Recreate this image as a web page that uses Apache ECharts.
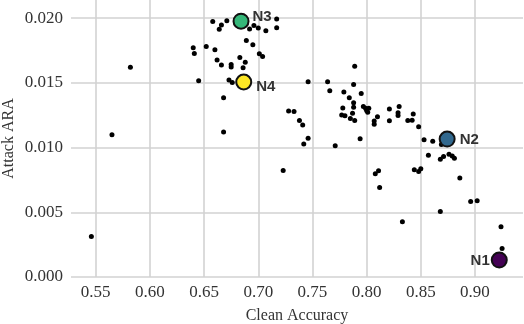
<!DOCTYPE html>
<html>
<head>
<meta charset="utf-8">
<script src="https://cdn.jsdelivr.net/npm/echarts@6/dist/echarts.min.js"></script>
<style>
html, body { margin: 0; padding: 0; background: #fff; }
#main { width: 524px; height: 324px; }
</style>
</head>
<body>
<div id="main"></div>
<script>
// all runs
var cleanAcc = [0.658, 0.666, 0.664, 0.671, 0.692, 0.696, 0.700, 0.707, 0.717, 0.717,
    0.689, 0.695, 0.701, 0.704, 0.640, 0.641, 0.652, 0.660, 0.662, 0.666,
    0.675, 0.675, 0.683, 0.688, 0.686, 0.582, 0.645, 0.673, 0.676, 0.668,
    0.565, 0.668, 0.546, 0.789, 0.746, 0.764, 0.788, 0.766, 0.779, 0.795,
    0.784, 0.788, 0.788, 0.778, 0.797, 0.799, 0.802, 0.800, 0.801, 0.728,
    0.733, 0.738, 0.741, 0.746, 0.742, 0.771, 0.794, 0.777, 0.780, 0.787,
    0.785, 0.789, 0.807, 0.807, 0.810, 0.821, 0.830, 0.829, 0.829, 0.821,
    0.838, 0.842, 0.843, 0.848, 0.853, 0.861, 0.869, 0.857, 0.868, 0.871,
    0.876, 0.879, 0.881, 0.723, 0.808, 0.811, 0.812, 0.844, 0.848, 0.850,
    0.886, 0.896, 0.902, 0.868, 0.833, 0.924, 0.925];
var attackAra = [0.01974, 0.01948, 0.01915, 0.01981, 0.01916, 0.01943, 0.01924, 0.01904, 0.01995, 0.01927,
    0.01827, 0.01795, 0.01726, 0.01705, 0.01772, 0.01728, 0.01782, 0.01757, 0.01678, 0.01639,
    0.01643, 0.01624, 0.01696, 0.01660, 0.01618, 0.01622, 0.01517, 0.01523, 0.01503, 0.01386,
    0.01099, 0.01120, 0.00314, 0.01629, 0.01510, 0.01510, 0.01487, 0.01439, 0.01429, 0.01418,
    0.01385, 0.01346, 0.01313, 0.01306, 0.01317, 0.01305, 0.01305, 0.01286, 0.01274, 0.01284,
    0.01280, 0.01209, 0.01174, 0.01073, 0.01028, 0.01014, 0.01069, 0.01253, 0.01246, 0.01266,
    0.01225, 0.01209, 0.01205, 0.01180, 0.01238, 0.01298, 0.01317, 0.01269, 0.01249, 0.01207,
    0.01209, 0.01212, 0.01259, 0.01161, 0.01060, 0.01050, 0.01025, 0.00941, 0.00911, 0.00931,
    0.00948, 0.00935, 0.00917, 0.00823, 0.00798, 0.00821, 0.00692, 0.00829, 0.00815, 0.00836,
    0.00765, 0.00583, 0.00589, 0.00507, 0.00427, 0.00388, 0.00221];

// highlighted runs
var hiNames = ['N1', 'N2', 'N3', 'N4'];
var hiAcc = [0.9224, 0.8743, 0.6841, 0.6866];
var hiAra = [0.00131, 0.01066, 0.01977, 0.01507];
var hiColors = ['#440154', '#31688e', '#35b779', '#fde725'];

function buildPoints(xs, ys) {
    var pts = [];
    for (var i = 0; i < xs.length; i++) {
        pts.push([xs[i], ys[i]]);
    }
    return pts;
}

function buildHighlights() {
    var labelPos = {
        N1: { position: 'left', distance: 1, offset: [0, 1] },
        N2: { position: 'right', distance: 4, offset: [0, 1] },
        N3: { position: 'right', distance: 3, offset: [0, -4] },
        N4: { position: 'right', distance: 4, offset: [0, 5] }
    };
    var dats = [];
    for (var i = 0; i < hiNames.length; i++) {
        var lp = labelPos[hiNames[i]];
        dats.push({
            name: hiNames[i],
            value: [hiAcc[i], hiAra[i]],
            itemStyle: { color: hiColors[i] },
            label: { position: lp.position, distance: lp.distance, offset: lp.offset }
        });
    }
    return dats;
}

var serifFont = '"Liberation Serif", "DejaVu Serif", serif';
var textCol = '#333333';

var chart = echarts.init(document.getElementById('main'), null, { renderer: 'canvas' });
chart.setOption({
    animation: false,
    backgroundColor: '#ffffff',
    grid: { left: 71, right: 1, top: 0, bottom: 47, containLabel: false, outerBoundsMode: 'none' },
    xAxis: {
        type: 'value',
        min: 0.5272,
        max: 0.9443,
        splitNumber: 8,
        name: 'Clean Accuracy',
        nameLocation: 'middle',
        nameGap: 31,
        nameMoveOverlap: false,
        nameTextStyle: { fontFamily: serifFont, fontSize: 16, color: textCol },
        axisLine: { show: false },
        axisTick: { show: false },
        axisLabel: {
            showMinLabel: false,
            showMaxLabel: false,
            margin: 7,
            fontFamily: serifFont,
            fontSize: 17,
            color: textCol,
            formatter: function (v) { return v.toFixed(2); }
        },
        splitLine: {
            show: true,
            showMinLine: false,
            showMaxLine: false,
            lineStyle: { color: '#d2d2d2', width: 1.6 }
        }
    },
    yAxis: {
        type: 'value',
        min: 0,
        max: 0.02141,
        splitNumber: 4,
        name: 'Attack ARA',
        nameLocation: 'middle',
        nameGap: 54,
        nameMoveOverlap: false,
        nameTextStyle: { fontFamily: serifFont, fontSize: 16, color: textCol },
        axisLine: { show: false },
        axisTick: { show: false },
        axisLabel: {
            showMaxLabel: false,
            margin: 8,
            fontFamily: serifFont,
            fontSize: 17,
            color: textCol,
            formatter: function (v) { return v.toFixed(3); }
        },
        splitLine: {
            show: true,
            showMaxLine: false,
            lineStyle: { color: '#d2d2d2', width: 1.6 }
        }
    },
    series: [{
        name: 'runs',
        type: 'scatter',
        symbol: 'circle',
        symbolSize: 5,
        itemStyle: { color: '#000000', opacity: 1 },
        data: buildPoints(cleanAcc, attackAra)
    }, {
        name: 'highlight',
        type: 'scatter',
        symbol: 'circle',
        symbolSize: 15,
        z: 5,
        itemStyle: { borderColor: '#111111', borderWidth: 2, opacity: 1 },
        label: {
            show: true,
            formatter: '{b}',
            fontFamily: '"Liberation Sans", "DejaVu Sans", sans-serif',
            fontWeight: 'bold',
            fontSize: 15,
            color: '#333333'
        },
        data: buildHighlights()
    }]
});
</script>
</body>
</html>
